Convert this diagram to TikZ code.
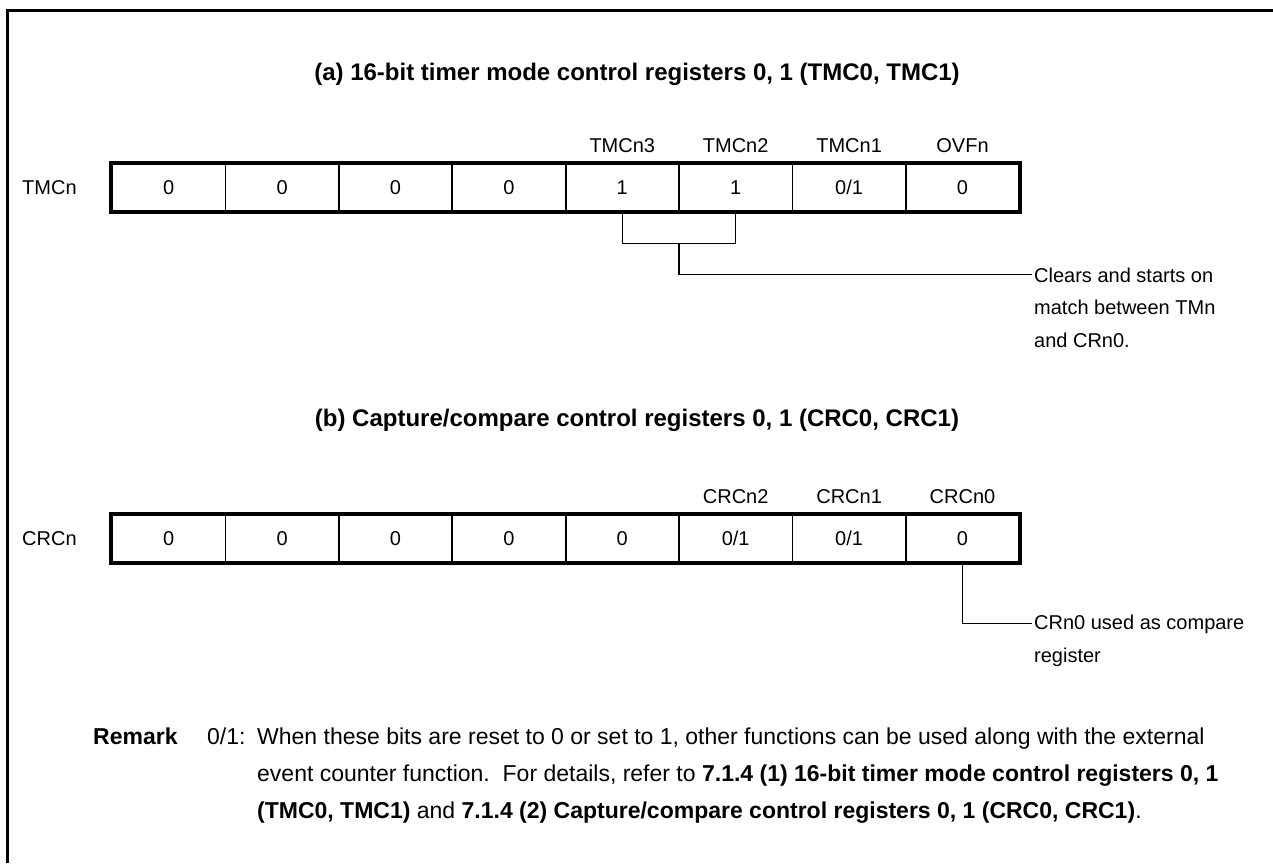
\documentclass[tikz,border=0pt]{standalone}
\usepackage{fontspec}
\setmainfont{Liberation Sans}
\usetikzlibrary{calc}
\begin{document}
\begin{tikzpicture}[x=1pt,y=-1pt,
  lbl/.style={font=\fontsize{20}{24}\selectfont, inner sep=0pt},
  ttl/.style={font=\bfseries\fontsize{24}{28}\selectfont, inner sep=0pt},
  rmk/.style={font=\fontsize{23}{27}\selectfont, inner sep=0pt, anchor=base west},
  cell/.style={draw, line width=1.8pt, minimum width=113.4pt, minimum height=47pt, inner sep=0pt, font=\fontsize{20}{24}\selectfont},
  outer/.style={line width=3.5pt},
  conn/.style={line width=1.2pt},
  frame/.style={line width=3pt}]
\useasboundingbox (0,0) rectangle (1273,863);
\draw[frame] (7,863) -- (7,10) -- (1273,10);

% ---------- (a) ----------
\node[ttl] (ta) at (637,74) {(a) 16-bit timer mode control registers 0, 1 (TMC0, TMC1)};
\node[lbl, anchor=west] (ra) at (22,187.5) {TMCn};
\foreach \i/\v in {0/0,1/0,2/0,3/0,4/1,5/1,6/{0/1},7/0}{
  \node[cell] (a\i) at (168.7+\i*113.4,187.5) {\v};
}
\draw[outer] (a0.north west) rectangle (a7.south east);
\node[lbl] (na4) at (a4.center |- 0,146) {TMCn3};
\node[lbl] (na5) at (a5.center |- 0,146) {TMCn2};
\node[lbl] (na6) at (a6.center |- 0,146) {TMCn1};
\node[lbl] (na7) at (a7.center |- 0,146) {OVFn};
\coordinate (bm) at ($(a4.south)!0.5!(a5.south)+(0,31.5)$);
\draw[conn] (a4.south) -- ++(0,31.5) -| (a5.south);
\node[lbl, anchor=base west] (c1) at (1034,282) {Clears and starts on};
\node[lbl, anchor=base west] (c2) at (1034,314.5) {match between TMn};
\node[lbl, anchor=base west] (c3) at (1034,347) {and CRn0.};
\draw[conn] (bm) |- ([xshift=-2pt]c1.west);

% ---------- (b) ----------
\node[ttl] (tb) at (637,420) {(b) Capture/compare control registers 0, 1 (CRC0, CRC1)};
\node[lbl, anchor=west] (rb) at (22,538.5) {CRCn};
\foreach \i/\v in {0/0,1/0,2/0,3/0,4/0,5/{0/1},6/{0/1},7/0}{
  \node[cell] (b\i) at (168.7+\i*113.4,538.5) {\v};
}
\draw[outer] (b0.north west) rectangle (b7.south east);
\node[lbl] (nb5) at (b5.center |- 0,497) {CRCn2};
\node[lbl] (nb6) at (b6.center |- 0,497) {CRCn1};
\node[lbl] (nb7) at (b7.center |- 0,497) {CRCn0};
\node[lbl, anchor=base west] (d1) at (1034,629) {CRn0 used as compare};
\node[lbl, anchor=base west] (d2) at (1034,662) {register};
\draw[conn] (b7.south) |- ([xshift=-2pt]d1.west);

% ---------- Remark ----------
\node[rmk] (rm) at (93,744) {\bfseries Remark};
\node[rmk] (r0) at (207,744) {0/1:};
\node[rmk] (r1) at (257,744) {When these bits are reset to 0 or set to 1, other functions can be used along with the external};
\node[rmk] (r2) at (257,781) {event counter function.\ \ For details, refer to \textbf{7.1.4 (1) 16-bit timer mode control registers 0, 1}};
\node[rmk] (r3) at (257,818) {\textbf{(TMC0, TMC1)} and \textbf{7.1.4 (2) Capture/compare control registers 0, 1 (CRC0, CRC1)}.};
\end{tikzpicture}
\end{document}
